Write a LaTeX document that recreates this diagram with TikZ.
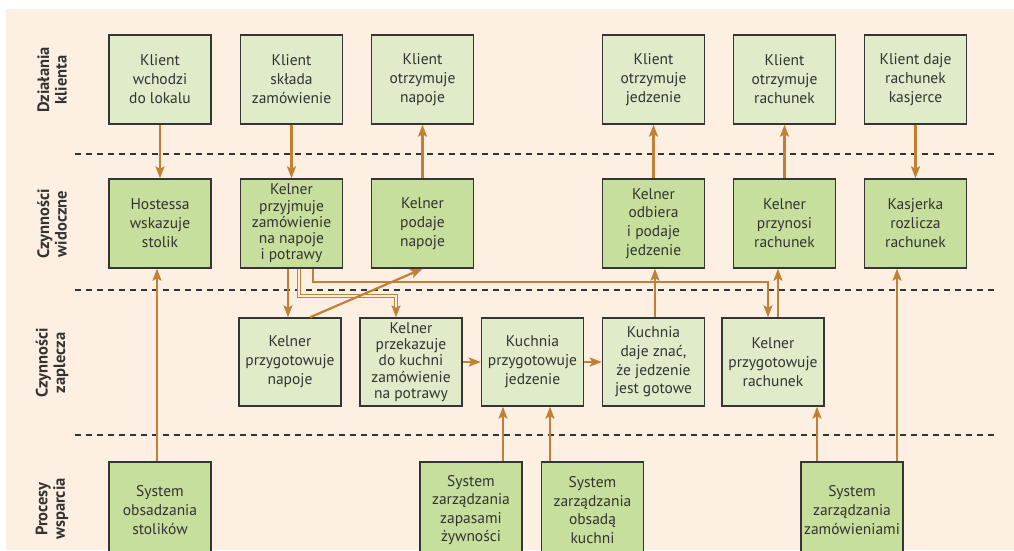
\documentclass[tikz,border=0pt]{standalone}
\usepackage{fontspec}
\setmainfont{PT Sans}
\usetikzlibrary{arrows.meta}
\definecolor{bgc}{HTML}{FDF0E2}
\definecolor{lgreen}{HTML}{DFEBC9}
\definecolor{dgreen}{HTML}{C6DF9C}
\definecolor{bord}{HTML}{353535}
\definecolor{arrc}{HTML}{C27F36}
\definecolor{txt}{HTML}{333333}
\tikzset{
  box/.style={draw=bord, line width=1.4pt, minimum width=102pt, inner sep=0pt,
    align=center, text=txt, font=\fontsize{15.5}{19}\selectfont},
  five/.style={font=\fontsize{15.5}{16.2}\selectfont},
  four/.style={font=\fontsize{15.5}{18.6}\selectfont},
  lbox/.style={box, fill=lgreen, minimum height=89pt},
  dbox/.style={box, fill=dgreen, minimum height=89pt},
  sbox/.style={box, fill=dgreen, minimum height=96pt},
  arr/.style={draw=arrc, line width=2.2pt, -{Stealth[length=12pt,width=9pt,inset=2.5pt]}},
  dbl/.style={draw=arrc, line width=1.1pt, double=bgc, double distance=1.3pt,
    -{Stealth[length=12pt,width=9pt,inset=2.5pt,fill=arrc]}},
  sep/.style={draw=bord, line width=1.6pt, dash pattern=on 6pt off 5pt},
  lane/.style={rotate=90, align=center, text=txt, font=\bfseries\fontsize{16.5}{17.5}\selectfont}
}
\begin{document}
\begin{tikzpicture}[x=1pt,y=-1pt]
\useasboundingbox (0,0) rectangle (1014,550);
\clip (0,0) rectangle (1014,550);
\fill[bgc] (6,9) rectangle (1014,550);
% separators
\draw[sep] (75,154) -- (995,154);
\draw[sep] (75,290) -- (995,290);
\draw[sep] (75,435) -- (995,435);
% lane labels
\node[lane] (l1) at (52,80) {Działania\\klienta};
\node[lane] (l2) at (52,224) {Czynności\\widoczne};
\node[lane] (l3) at (52,363) {Czynności\\zaplecza};
\node[lane] (l4) at (52,509) {Procesy\\wsparcia};
% row 1
\node[lbox] (c1) at (160,79.5) {Klient\\wchodzi\\do lokalu};
\node[lbox] (c2) at (291.5,79.5) {Klient\\składa\\zamówienie};
\node[lbox] (c3) at (422.5,79.5) {Klient\\otrzymuje\\napoje};
\node[lbox] (c4) at (653.5,79.5) {Klient\\otrzymuje\\jedzenie};
\node[lbox] (c5) at (784.5,79.5) {Klient\\otrzymuje\\rachunek};
\node[lbox] (c6) at (915.5,79.5) {Klient daje\\rachunek\\kasjerce};
% row 2
\node[dbox] (v1) at (160,223.5) {Hostessa\\wskazuje\\stolik};
\node[dbox, five] (v2) at (291.5,223.5) {Kelner\\przyjmuje\\zamówienie\\na napoje\\i potrawy};
\node[dbox] (v3) at (422.5,223.5) {Kelner\\podaje\\napoje};
\node[dbox, four] (v4) at (653.5,223.5) {Kelner\\odbiera\\i podaje\\jedzenie};
\node[dbox] (v5) at (784.5,223.5) {Kelner\\przynosi\\rachunek};
\node[dbox] (v6) at (915.5,223.5) {Kasjerka\\rozlicza\\rachunek};
% row 3
\node[lbox, minimum height=88pt] (b1) at (290,362) {Kelner\\przygotowuje\\napoje};
\node[lbox, five, minimum height=88pt] (b2) at (411,362) {Kelner\\przekazuje\\do kuchni\\zamówienie\\na potrawy};
\node[lbox, minimum height=88pt] (b3) at (532.5,362) {Kuchnia\\przygotowuje\\jedzenie};
\node[lbox, four, minimum height=88pt] (b4) at (653.5,362) {Kuchnia\\daje znać,\\że jedzenie\\jest gotowe};
\node[lbox, minimum height=88pt] (b5) at (773,362) {Kelner\\przygotowuje\\rachunek};
% row 4
\node[sbox] (s1) at (160,510) {System\\obsadzania\\stolików};
\node[sbox, four] (s2) at (471,510) {System\\zarządzania\\zapasami\\żywności};
\node[sbox, four] (s3) at (592.5,510) {System\\zarządzania\\obsadą\\kuchni};
\node[sbox] (s4) at (852,510) {System\\zarządzania\\zamówieniami};
% arrows row1-row2
\draw[arr] (c1) -- (v1);
\draw[arr] (c2) -- (v2);
\draw[arr] (v3) -- (c3);
\draw[arr] (v4) -- (c4);
\draw[arr] (v5) -- (c5);
\draw[arr] (c6) -- (v6);
% support to visible
\draw[arr] ([xshift=-3pt]s1.north) -- ([xshift=-3pt]v1.south);
\draw[arr] ([xshift=45pt]s4.north) -- ([xshift=-18.5pt]v6.south);
% from order taking
\draw[arr] ([xshift=-3.5pt]v2.south) -- ([xshift=-2pt]b1.north);
\draw[dbl] ([xshift=7.5pt]v2.south) |- (299,296) -| ([xshift=-15pt]b2.north);
\draw[arr] ([xshift=21.5pt]v2.south) |- (313,282) -| ([xshift=-5pt]b5.north);
\draw[arr] ([xshift=20pt]b1.north) -- ([xshift=0pt]v3.south);
% back office chain
\draw[arr] (b2) -- (b3);
\draw[arr] (b3) -- (b4);
\draw[arr] ([xshift=1.5pt]b4.north) -- ([xshift=1.5pt]v4.south);
\draw[arr] ([xshift=5pt]b5.north) -- ([xshift=-6.5pt]v5.south);
% support to back office
\draw[arr] ([xshift=32pt]s2.north) -- ([xshift=-29.5pt]b3.south);
\draw[arr] ([xshift=-42.5pt]s3.north) -- ([xshift=17.5pt]b3.south);
\draw[arr] ([xshift=-35pt]s4.north) -- ([xshift=44pt]b5.south);
\end{tikzpicture}
\end{document}
